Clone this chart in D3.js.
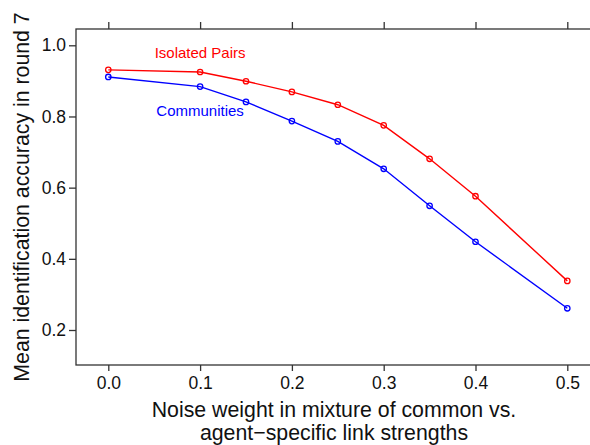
<!DOCTYPE html>
<html>
<head>
<meta charset="utf-8">
<script src="https://cdn.jsdelivr.net/npm/d3@7"></script>
<style>
    body{margin:0;background:#fff;}
    svg{display:block;font-family:"Liberation Sans",Arial,sans-serif;}
</style>
</head>
<body>
<div id="chart"></div>
<script>
// data
var noise = [0.0, 0.1, 0.15, 0.2, 0.25, 0.3, 0.35, 0.4, 0.5];
var isolatedPairs = [0.931, 0.925, 0.899, 0.869, 0.833, 0.775, 0.681, 0.576, 0.338];
var communities = [0.911, 0.884, 0.841, 0.787, 0.730, 0.653, 0.549, 0.448, 0.261];
var xTicks = [0.0, 0.1, 0.2, 0.3, 0.4, 0.5];
var yTicks = [0.2, 0.4, 0.6, 0.8, 1.0];

var width = 590, height = 445;
var box = {left: 76, top: 29, right: 593, bottom: 365};

var svg = d3.select("#chart").append("svg")
    .attr("width", width)
    .attr("height", height);

var x = d3.scaleLinear().domain([0, 0.5]).range([108.3, 567.3]);
var y = d3.scaleLinear().domain([0.2, 1.0]).range([330, 45.3]);

// frame
svg.append("rect")
    .attr("x", box.left).attr("y", box.top)
    .attr("width", box.right - box.left).attr("height", box.bottom - box.top)
    .attr("fill", "none").attr("stroke", "#333").attr("stroke-width", 1.3);

// bottom axis
var xAxis = svg.append("g")
    .attr("transform", "translate(0," + box.bottom + ")")
    .call(d3.axisBottom(x).tickValues(xTicks).tickFormat(d3.format(".1f")).tickSize(6).tickPadding(5));
// top ticks only
var xTop = svg.append("g")
    .attr("transform", "translate(0," + box.top + ")")
    .call(d3.axisTop(x).tickValues(xTicks).tickFormat("").tickSize(7));
// left axis
var yAxis = svg.append("g")
    .attr("transform", "translate(" + box.left + ",0)")
    .call(d3.axisLeft(y).tickValues(yTicks).tickFormat(d3.format(".1f")).tickSize(7).tickPadding(3));

svg.selectAll(".domain").remove();
svg.selectAll(".tick line").attr("stroke", "#333").attr("stroke-width", 1.3);
svg.selectAll(".tick text").attr("fill", "#111").style("font-size", "17.5px").attr("font-family", null);
xAxis.selectAll(".tick text").attr("dy", "0.72em");

// series
var series = [
    {name: "Isolated Pairs", values: isolatedPairs, color: "#ff0000", labelAt: [0.1, 0.963]},
    {name: "Communities", values: communities, color: "#0000ff", labelAt: [0.1, 0.801]}
];

var line = d3.line()
    .x(function(d){return x(d[0]);})
    .y(function(d){return y(d[1]);});

series.forEach(function(s){
    var pts = noise.map(function(n, i){return [n, s.values[i]];});
    svg.append("path")
        .datum(pts)
        .attr("d", line)
        .attr("fill", "none")
        .attr("stroke", s.color)
        .attr("stroke-width", 1.4);
    svg.selectAll(null)
        .data(pts)
        .enter().append("circle")
        .attr("cx", function(d){return x(d[0]);})
        .attr("cy", function(d){return y(d[1]);})
        .attr("r", 2.7)
        .attr("fill", "none")
        .attr("stroke", s.color)
        .attr("stroke-width", 1.3);
    svg.append("text")
        .attr("x", x(s.labelAt[0]))
        .attr("y", y(s.labelAt[1]))
        .attr("text-anchor", "middle")
        .attr("fill", s.color)
        .style("font-size", "15px")
        .text(s.name);
});

// axis titles
svg.append("text")
    .attr("x", 334).attr("y", 417)
    .attr("text-anchor", "middle")
    .attr("fill", "#111")
    .style("font-size", "21.3px")
    .text("Noise weight in mixture of common vs.");
svg.append("text")
    .attr("x", 334).attr("y", 440)
    .attr("text-anchor", "middle")
    .attr("fill", "#111")
    .style("font-size", "21.3px")
    .text("agent\u2212specific link strengths");
svg.append("text")
    .attr("transform", "translate(29," + ((box.top + box.bottom) / 2) + ") rotate(-90)")
    .attr("text-anchor", "middle")
    .attr("fill", "#111")
    .style("font-size", "21.3px")
    .text("Mean identification accuracy in round 7");
</script>
</body>
</html>
